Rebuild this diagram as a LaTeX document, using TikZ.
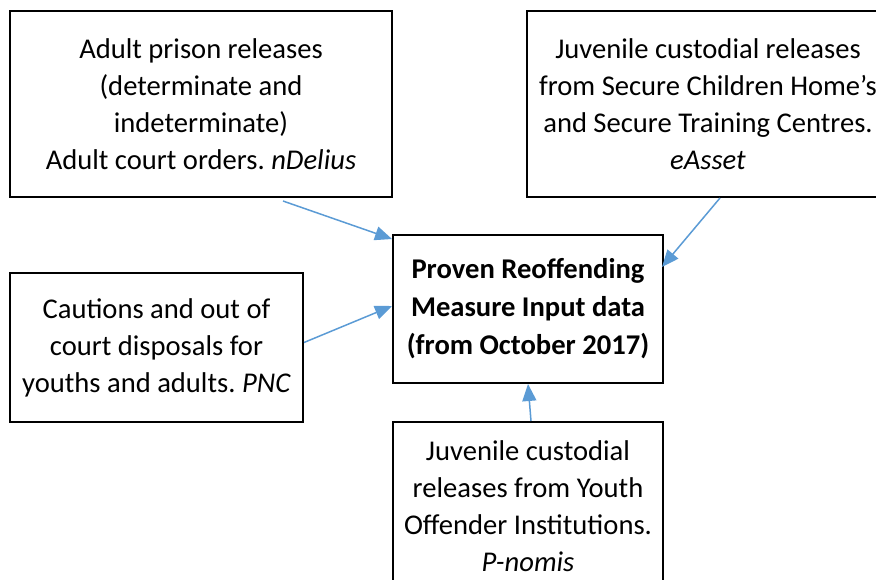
\documentclass[tikz,border=0pt]{standalone}
\usepackage{fontspec}
\setmainfont{Carlito}
\usetikzlibrary{arrows.meta}
\definecolor{arrblue}{RGB}{91,155,213}
\frenchspacing
\begin{document}
\begin{tikzpicture}[x=1pt, y=-1pt,
  font=\fontsize{28.6}{37}\selectfont,
  src/.style={draw, line width=2pt, align=center, inner sep=0pt,
              minimum width=#1},
  arr/.style={-{Triangle[length=17pt,width=14pt]}, arrblue, line width=1.5pt}
]
  \useasboundingbox (0,0) rectangle (876,579);

  \node[src=382pt, minimum height=186pt] (adult) at (201,104)
        {Adult prison releases\\(determinate and\\indeterminate)\\Adult court orders. \textit{nDelius}};
  \node[src=362pt, minimum height=186pt] (juv) at (708,104)
        {Juvenile custodial releases\\from Secure Children Home’s\\and Secure Training Centres.\\\textit{eAsset}};
  \node[src=270pt, minimum height=148pt, font=\fontsize{28.6}{38}\selectfont\bfseries] (core) at (528,309)
        {Proven Reoffending\\Measure Input data\\(from October 2017)};
  \node[src=293pt, minimum height=149pt] (caut) at (156.5,347.5)
        {Cautions and out of\\court disposals for\\youths and adults. \textit{PNC}};
  \node[src=270pt, minimum height=168pt] (yoi) at (528,506)
        {Juvenile custodial\\releases from Youth\\Offender Institutions.\\\textit{P-nomis}};

  \draw[arr] ([xshift=82pt, yshift=-3pt]adult.south) -- ([yshift=-5pt]core.north west);
  \draw[arr] ([xshift=12pt]juv.south) -- ([xshift=-2pt, yshift=42pt]core.east);
  \draw[arr] ([yshift=5pt]caut.east) -- ([yshift=3pt]core.west);
  \draw[arr] ([xshift=3pt]yoi.north) -- (core.south);
\end{tikzpicture}
\end{document}
